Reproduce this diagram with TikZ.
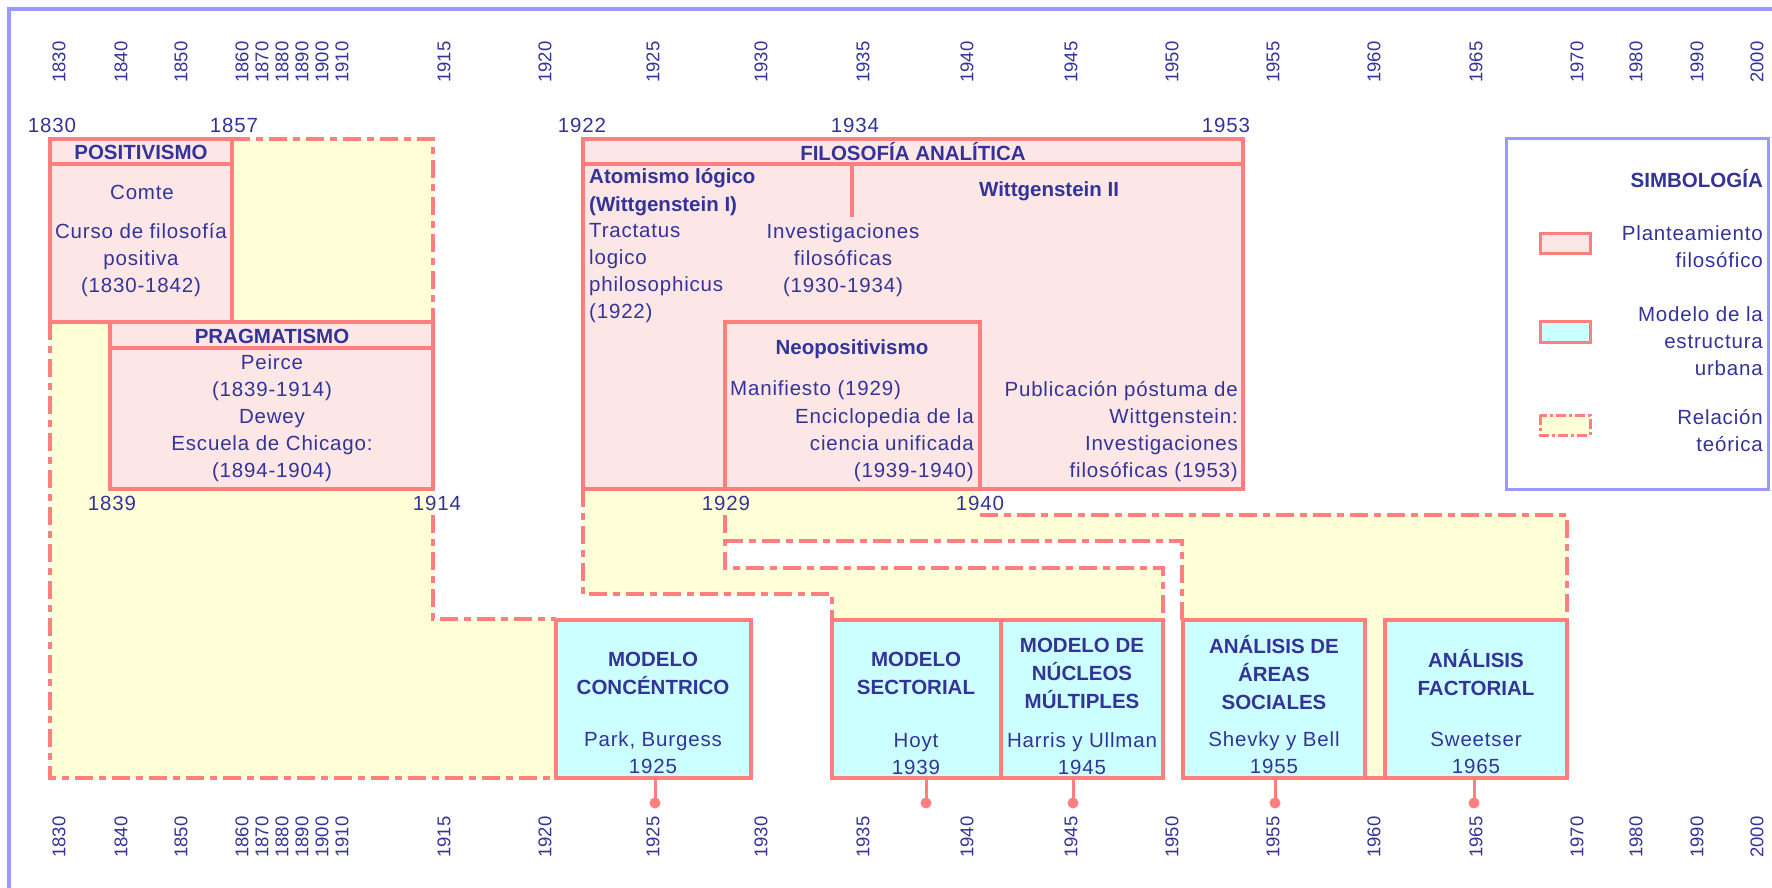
\documentclass[tikz,border=0pt]{standalone}
\usepackage{fontspec}
\setmainfont{Liberation Sans}
\newfontfamily\spacedsans{Liberation Sans}[LetterSpace=4]
\usetikzlibrary{positioning, calc}

\definecolor{ink}{HTML}{333399}
\definecolor{salmon}{HTML}{FF7F7F}
\definecolor{pinkfill}{HTML}{FCE7E6}
\definecolor{cyanfill}{HTML}{CCFFFF}
\definecolor{yellowfill}{HTML}{FFFFD7}
\definecolor{framecol}{HTML}{9999FF}

\begin{document}
\begin{tikzpicture}[x=1pt, y=-1pt,
    txt/.style={font=\spacedsans\fontsize{20.5}{27}\selectfont, text=ink, inner sep=0pt},
    hd/.style={font=\bfseries\fontsize{20.5}{28}\selectfont, text=ink, inner sep=0pt},
    yrlabel/.style={font=\fontsize{18.5}{18.5}\selectfont, text=ink, inner sep=0pt, rotate=90},
    philo/.style={draw=salmon, fill=pinkfill, line width=3.5pt},
    model/.style={draw=salmon, fill=cyanfill, line width=3.5pt},
    sep/.style={draw=salmon, line width=3.5pt},
    relfill/.style={fill=yellowfill},
    rel/.style={draw=salmon, line width=3.5pt, dash pattern=on 18pt off 6pt on 7pt off 6pt},
    stemline/.style={draw=salmon, line width=3pt},
    stemdot/.style={circle, fill=salmon, inner sep=0pt, minimum size=11pt}]

\fill[white] (0,0) rectangle (1772,887);
\useasboundingbox (0,0) rectangle (1772,887);

\draw[framecol, line width=4pt] (1780,9) -- (9,9) -- (9,895);

\foreach \yy/\xx in {1830/59,1840/121,1850/181,1860/242,1870/262,1880/282,1890/302,1900/322,1910/342,1915/444,1920/545,1925/653,1930/761,1935/863,1940/967,1945/1071,1950/1172,1955/1273,1960/1374,1965/1476,1970/1577,1980/1636,1990/1697,2000/1757}
{
\node[yrlabel] (top\yy) at (\xx,62) {\yy};
\node[yrlabel] (bot\yy) at (\xx,837) {\yy};
}

% relaciones teoricas
\fill[relfill] (50,139) -- (433,139) -- (433,619) -- (556,619) -- (556,778) -- (50,778) -- cycle;
\fill[relfill] (583,489) -- (725,489) -- (725,568) -- (1163,568) -- (1163,620) -- (832,620) -- (832,594) -- (583,594) -- cycle;
\fill[relfill] (725,489) -- (980,489) -- (980,515) -- (1567,515) -- (1567,778) -- (1182,778) -- (1182,541) -- (725,541) -- cycle;

\draw[rel] (232,139) -- (433,139) -- (433,322);
\draw[rel] (433,515) -- (433,619) -- (556,619);
\draw[rel] (50,322) -- (50,778) -- (556,778);
\draw[rel] (583,489) -- (583,594) -- (832,594) -- (832,620);
\draw[rel] (725,515) -- (725,568) -- (1163,568) -- (1163,620);
\draw[rel] (725,541) -- (1182,541) -- (1182,620);
\draw[rel] (980,515) -- (1567,515) -- (1567,620);
\draw[sep] (1365,778) -- (1385,778);

% planteamientos filosoficos
\draw[philo] (50,139) rectangle (232,322);
\draw[sep] (50,164) -- (232,164);
\draw[philo] (110,322) rectangle (433,489);
\draw[sep] (110,348) -- (433,348);
\draw[philo] (583,139) rectangle (1243,489);
\draw[sep] (583,164) -- (1243,164);
\draw[sep] (852,164) -- (852,217);
\draw[philo] (725,322) rectangle (980,489);

\node[hd] (posit) at (141,152) {POSITIVISMO};
\node[txt] (comte) at (142,192) {Comte};
\node[txt, align=center] (curso) at (141,260) {Curso de filosofía\\positiva\\(1830-1842)};
\node[hd] (pragm) at (272,336) {PRAGMATISMO};
\node[txt, align=center] (peirce) at (272,418) {Peirce\\(1839-1914)\\Dewey\\Escuela de Chicago:\\(1894-1904)};

\node[hd] (analit) at (913,152) {FILOSOFÍA ANALÍTICA};
\node[hd, anchor=west, align=left] (atom) at (589,192) {Atomismo lógico\\(Wittgenstein I)};
\node[hd] (witt) at (1049,191) {Wittgenstein II};
\node[txt, anchor=west, align=left] (tract) at (589,273) {Tractatus\\logico\\philosophicus\\(1922)};
\node[txt, align=center] (invest) at (843,260) {Investigaciones\\filosóficas\\(1930-1934)};
\node[hd] (neopos) at (852,349) {Neopositivismo};
\node[txt, anchor=west] (manif) at (730,390) {Manifiesto (1929)};
\node[txt, anchor=east, align=right] (encic) at (974,445) {Enciclopedia de la\\ciencia unificada\\(1939-1940)};
\node[txt, anchor=east, align=right] (postuma) at (1238,432) {Publicación póstuma de\\Wittgenstein:\\Investigaciones\\filosóficas (1953)};

\node[txt] (y1830) at (52,125) {1830};
\node[txt] (y1857) at (234,125) {1857};
\node[txt] (y1922) at (582,125) {1922};
\node[txt] (y1934) at (855,125) {1934};
\node[txt] (y1953) at (1226,125) {1953};
\node[txt] (y1839) at (112,503) {1839};
\node[txt] (y1914) at (437,503) {1914};
\node[txt] (y1929) at (726,503) {1929};
\node[txt] (y1940) at (980,503) {1940};

% modelos de la estructura urbana
\draw[model] (556,620) rectangle (751,778);
\draw[model] (832,620) rectangle (1001,778);
\draw[model] (1001,620) rectangle (1163,778);
\draw[model] (1183,620) rectangle (1365,778);
\draw[model] (1385,620) rectangle (1567,778);

\node[hd, align=center] (conc) at (653,673) {MODELO\\CONCÉNTRICO};
\node[txt, align=center] (concaut) at (653,753) {Park, Burgess\\1925};
\node[hd, align=center] (sect) at (916,673) {MODELO\\SECTORIAL};
\node[txt, align=center] (sectaut) at (916,754) {Hoyt\\1939};
\node[hd, align=center] (nucl) at (1082,673) {MODELO DE\\NÚCLEOS\\MÚLTIPLES};
\node[txt, align=center] (nuclaut) at (1082,754) {Harris y Ullman\\1945};
\node[hd, align=center] (area) at (1274,673) {ANÁLISIS DE\\ÁREAS\\SOCIALES};
\node[txt, align=center] (areaaut) at (1274,753) {Shevky y Bell\\1955};
\node[hd, align=center] (fact) at (1476,673) {ANÁLISIS\\FACTORIAL};
\node[txt, align=center] (factaut) at (1476,753) {Sweetser\\1965};

\foreach \nm/\xx in {conc/655,sect/926,nucl/1073,area/1275,fact/1474}
{
\coordinate (\nm-top) at (\xx,778);
\node[stemdot] (\nm-dot) at (\xx,803) {};
\draw[stemline] (\nm-top) -- (\nm-dot.center);
}

% simbologia
\draw[framecol, line width=3pt] (1506,138) rectangle (1768,489);
\node[hd, anchor=east] (simb) at (1763,179) {SIMBOLOGÍA};
\draw[philo, line width=3pt] (1540,233) rectangle (1590,253);
\node[txt, anchor=east, align=right] (leg1) at (1763,247) {Planteamiento\\filosófico};
\draw[model, line width=3pt] (1540,321) rectangle (1590,342);
\node[txt, anchor=east, align=right] (leg2) at (1763,341) {Modelo de la\\estructura\\urbana};
\draw[rel, line width=3pt, fill=yellowfill, dash pattern=on 10pt off 3pt on 3pt off 3pt] (1540,415) rectangle (1590,435);
\node[txt, anchor=east, align=right] (leg3) at (1763,431) {Relación\\teórica};

\end{tikzpicture}
\end{document}
